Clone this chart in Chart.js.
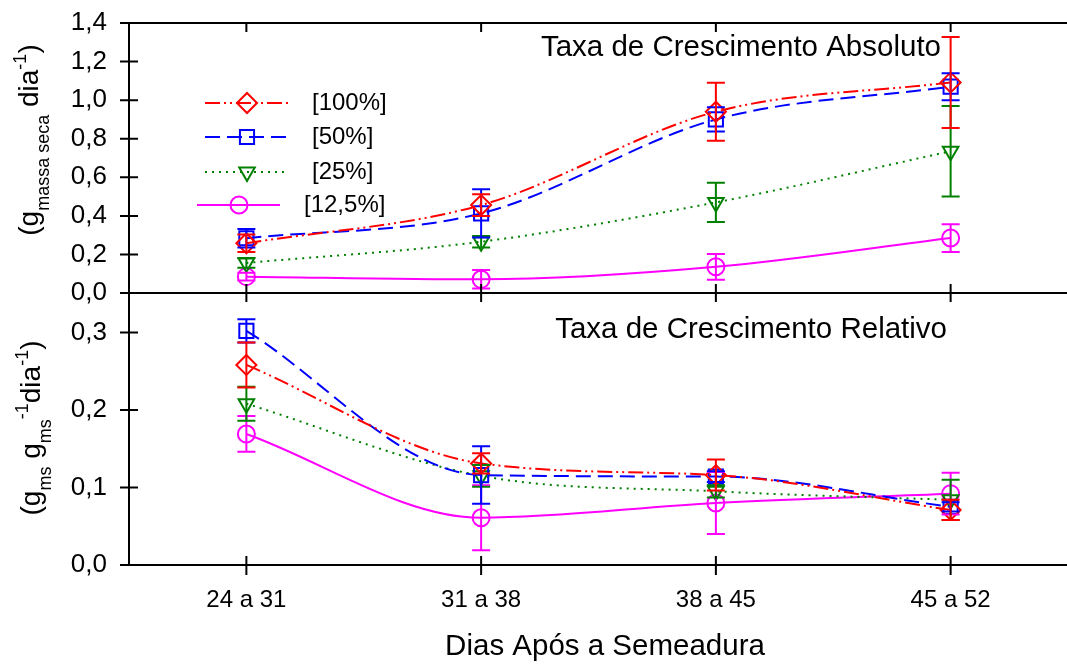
<!DOCTYPE html>
<html>
<head>
<meta charset="utf-8">
<script src="https://cdn.jsdelivr.net/npm/chart.js@4.4.0/dist/chart.umd.min.js"></script>
<style>
  html, body { margin: 0; padding: 0; background: #fff; overflow: hidden; }
  #wrap { position: absolute; left: 0; top: 0; width: 1080px; height: 664px; }
</style>
</head>
<body>
<div id="wrap"><canvas id="grafico" width="1080" height="664"></canvas></div>
<script>
// categorias (dias apos a semeadura)
const periodos = ['24 a 31', '31 a 38', '38 a 45', '45 a 52'];
const doses = ['[100%]', '[50%]', '[25%]', '[12,5%]'];

// Taxa de Crescimento Absoluto (g massa seca dia-1)
const tca100 = [0.258, 0.456, 0.940, 1.092];
const tca50  = [0.284, 0.413, 0.900, 1.070];
const tca25  = [0.156, 0.266, 0.470, 0.735];
const tca12  = [0.085, 0.071, 0.136, 0.285];
const tcaErr100 = [0.045, 0.056, 0.150, 0.236];
const tcaErr50  = [0.048, 0.125, 0.063, 0.070];
const tcaErr25  = [0.025, 0.030, 0.102, 0.235];
const tcaErr12  = [0.020, 0.048, 0.067, 0.072];

// Taxa de Crescimento Relativo (g ms g ms-1 dia-1)
const tcr100 = [0.258, 0.131, 0.116, 0.071];
const tcr50  = [0.302, 0.116, 0.114, 0.075];
const tcr25  = [0.208, 0.115, 0.095, 0.084];
const tcr12  = [0.169, 0.061, 0.080, 0.092];
const tcrErr100 = [0.029, 0.013, 0.020, 0.013];
const tcrErr50  = [0.015, 0.037, 0.007, 0.006];
const tcrErr25  = [0.022, 0.014, 0.008, 0.026];
const tcrErr12  = [0.023, 0.042, 0.040, 0.027];

// marcas dos eixos
const ticksTCA = [0, 0.2, 0.4, 0.6, 0.8, 1.0, 1.2, 1.4];
const ticksTCR = [0, 0.1, 0.2, 0.3];

const FONTE = '"Liberation Sans", Arial, sans-serif';

// estilo de cada dose: cor, tracejado, marcador
const estilos = [
    { cor: '#ff0000', dash: [15, 4, 2, 4, 2, 4], ponto: 'rectRot', raio: 10, rot: 0 },
    { cor: '#0000ff', dash: [15, 7], ponto: 'rect', raio: 10, rot: 0 },
    { cor: '#008000', dash: [2, 5], ponto: 'triangle', raio: 9, rot: 180 },
    { cor: '#ff00ff', dash: [], ponto: 'circle', raio: 8.5, rot: 0 }
];

function serie(i, dados, erros, eixo) {
    const e = estilos[i];
    return {
        label: doses[i],
        data: dados,
        erros: erros,
        yAxisID: eixo,
        borderColor: e.cor,
        borderWidth: 2,
        borderDash: e.dash,
        pointStyle: e.ponto,
        pointRadius: e.raio,
        pointRotation: e.rot,
        pointBorderColor: e.cor,
        pointBorderWidth: 2,
        pointBackgroundColor: 'rgba(0,0,0,0)',
        cubicInterpolationMode: 'monotone',
        fill: false
    };
}

const datasets = [
    serie(0, tca100, tcaErr100, 'yA'),
    serie(1, tca50, tcaErr50, 'yA'),
    serie(2, tca25, tcaErr25, 'yA'),
    serie(3, tca12, tcaErr12, 'yA'),
    serie(0, tcr100, tcrErr100, 'yR'),
    serie(1, tcr50, tcrErr50, 'yR'),
    serie(2, tcr25, tcrErr25, 'yR'),
    serie(3, tcr12, tcrErr12, 'yR')
];

// barras de erro
const barrasErro = {
    id: 'barrasErro',
    afterDatasetsDraw(chart) {
        const ctx = chart.ctx;
        const x = chart.scales.x;
        for (let d = chart.data.datasets.length - 1; d >= 0; d--) {
            const ds = chart.data.datasets[d];
            const y = chart.scales[ds.yAxisID];
            ctx.save();
            ctx.strokeStyle = ds.borderColor;
            ctx.lineWidth = 2;
            ctx.setLineDash([]);
            ds.data.forEach((v, i) => {
                const px = x.getPixelForValue(i);
                const yt = y.getPixelForValue(v + ds.erros[i]);
                const yb = y.getPixelForValue(v - ds.erros[i]);
                ctx.beginPath();
                ctx.moveTo(px, yt); ctx.lineTo(px, yb);
                ctx.moveTo(px - 9, yt); ctx.lineTo(px + 9, yt);
                ctx.moveTo(px - 9, yb); ctx.lineTo(px + 9, yb);
                ctx.stroke();
            });
            ctx.restore();
        }
    }
};

// texto girado com sub/sobrescritos
function textoGirado(ctx, partes, cx, cy) {
    const fontes = { n: '28px ' + FONTE, s: '18px ' + FONTE };
    const desl = { n: 0, sub: 11, sup: -12 };
    ctx.save();
    ctx.translate(cx, cy);
    ctx.rotate(-Math.PI / 2);
    ctx.fillStyle = '#000';
    ctx.textBaseline = 'alphabetic';
    ctx.textAlign = 'left';
    let total = 0;
    partes.forEach(p => {
        ctx.font = p[1] === 'n' ? fontes.n : fontes.s;
        total += ctx.measureText(p[0]).width;
    });
    let px = -total / 2;
    partes.forEach(p => {
        ctx.font = p[1] === 'n' ? fontes.n : fontes.s;
        ctx.fillText(p[0], px, desl[p[1]]);
        px += ctx.measureText(p[0]).width;
    });
    ctx.restore();
}

const moldura = {
    id: 'moldura',
    afterDraw(chart) {
        const ctx = chart.ctx;
        const a = chart.chartArea;
        const x = chart.scales.x;
        const yA = chart.scales.yA;
        const yR = chart.scales.yR;
        const meio = yA.getPixelForValue(0);

        ctx.save();
        ctx.strokeStyle = '#000';
        ctx.lineWidth = 2;
        ctx.setLineDash([]);
        ctx.beginPath();
        // eixo esquerdo e bordas
        ctx.moveTo(a.left, a.top); ctx.lineTo(a.left, a.bottom);
        [a.top, meio, a.bottom].forEach(yy => { ctx.moveTo(a.left - 9, yy); ctx.lineTo(a.right, yy); });
        // marcas y
        ticksTCA.forEach(v => { const p = yA.getPixelForValue(v); ctx.moveTo(a.left - 9, p); ctx.lineTo(a.left + 9, p); });
        ticksTCR.forEach(v => { const p = yR.getPixelForValue(v); ctx.moveTo(a.left - 9, p); ctx.lineTo(a.left + 9, p); });
        // marcas x
        periodos.forEach((c, i) => {
            const p = x.getPixelForValue(i);
            ctx.moveTo(p, a.top); ctx.lineTo(p, a.top + 9);
            ctx.moveTo(p, meio - 9); ctx.lineTo(p, meio + 9);
            ctx.moveTo(p, a.bottom - 9); ctx.lineTo(p, a.bottom + 10);
        });
        ctx.stroke();

        // rotulos
        ctx.fillStyle = '#000';
        ctx.font = '26px ' + FONTE;
        ctx.textAlign = 'right';
        ctx.textBaseline = 'middle';
        const fmt = v => v.toFixed(1).replace('.', ',');
        ticksTCA.forEach(v => ctx.fillText(fmt(v), 107, yA.getPixelForValue(v)));
        ticksTCR.forEach(v => ctx.fillText(fmt(v), 107, yR.getPixelForValue(v)));
        ctx.font = '24px ' + FONTE;
        ctx.textAlign = 'center';
        periodos.forEach((c, i) => ctx.fillText(c, x.getPixelForValue(i), 600));

        ctx.font = '29.5px ' + FONTE;
        ctx.fillText('Dias Após a Semeadura', 605, 647);
        ctx.textAlign = 'right';
        ctx.fillText('Taxa de Crescimento Absoluto', 941, 48);
        ctx.fillText('Taxa de Crescimento Relativo', 947, 330);

        // legenda
        const linhasLeg = [103, 137, 172, 205];
        const desvioLeg = [0, 0, 0, -8];
        estilos.forEach((e, i) => {
            const yy = linhasLeg[i];
            const dx = desvioLeg[i];
            ctx.strokeStyle = e.cor;
            ctx.fillStyle = 'rgba(0,0,0,0)';
            ctx.lineWidth = 2;
            ctx.setLineDash(e.dash);
            ctx.beginPath();
            ctx.moveTo(205 + dx, yy); ctx.lineTo(288 + dx, yy);
            ctx.stroke();
            ctx.setLineDash([]);
            Chart.helpers.drawPoint(ctx, { pointStyle: e.ponto, radius: e.raio, rotation: e.rot, borderWidth: 2 }, 247 + dx, yy);
            ctx.fillStyle = '#000';
            ctx.font = '24px ' + FONTE;
            ctx.textAlign = 'left';
            ctx.fillText(doses[i], 312 + dx, yy);
        });

        // titulos dos eixos y
        textoGirado(ctx, [['(g', 'n'], ['massa seca', 'sub'], [' dia', 'n'], ['-1', 'sup'], [')', 'n']], 38, 140);
        textoGirado(ctx, [['(g', 'n'], ['ms', 'sub'], [' g', 'n'], ['ms', 'sub'], ['-1', 'sup'], ['dia', 'n'], ['-1', 'sup'], [')', 'n']], 40, 428);
        ctx.restore();
    }
};

new Chart(document.getElementById('grafico'), {
    type: 'line',
    data: { labels: periodos, datasets: datasets },
    options: {
        responsive: false,
        animation: false,
        layout: { padding: { left: 129, top: 23, right: 3, bottom: 99 } },
        scales: {
            x: { type: 'category', display: false, offset: true },
            yA: { type: 'linear', axis: 'y', display: false, min: -1.41, max: 1.4 },
            yR: { type: 'linear', axis: 'y', display: false, min: 0, max: 0.699 }
        },
        plugins: { legend: { display: false }, tooltip: { enabled: false } }
    },
    plugins: [barrasErro, moldura]
});
</script>
</body>
</html>
